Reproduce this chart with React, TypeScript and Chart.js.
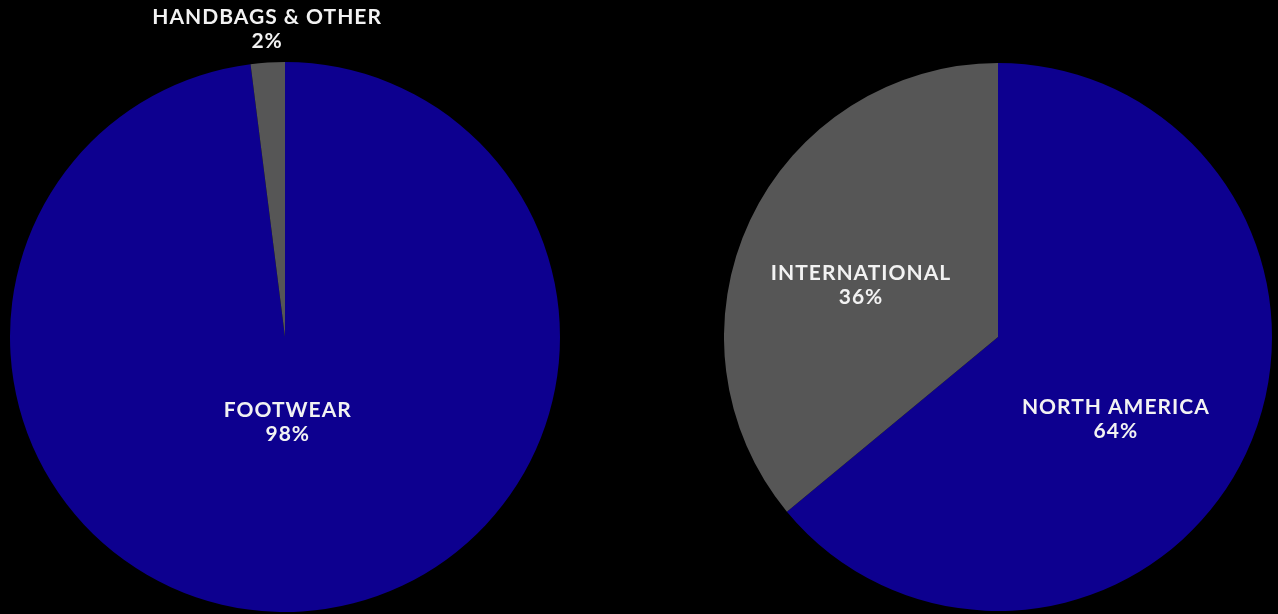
import React, { useEffect, useRef } from "react";
import { Chart, registerables } from "chart.js";

Chart.register(...registerables);

const productLabels = ["FOOTWEAR", "HANDBAGS & OTHER"];
const productValues = [98, 2];
const regionLabels = ["NORTH AMERICA", "INTERNATIONAL"];
const regionValues = [64, 36];

const BLUE = "#0d008f";
const GRAY = "#565656";

const labelPlugin = {
  id: "sliceLabels",
  afterDatasetsDraw(chart: any, _args: any, opts: any) {
    const ctx = chart.ctx;
    const meta = chart.getDatasetMeta(0);
    const labels = chart.data.labels as string[];
    const values = chart.data.datasets[0].data as number[];
    const offsets = opts.offsets as number[][];
    ctx.save();
    ctx.fillStyle = "#f2f2f2";
    ctx.textAlign = "center";
    ctx.textBaseline = "middle";
    ctx.font = "bold 21px Lato";
    (ctx as any).letterSpacing = "1px";
    meta.data.forEach((arc: any, i: number) => {
      const r = arc.outerRadius;
      const x = arc.x + offsets[i][0] * r;
      const y = arc.y + offsets[i][1] * r;
      ctx.fillText(labels[i], x, y - 12);
      ctx.fillText(values[i] + "%", x, y + 12);
    });
    ctx.restore();
  },
};

function Pie({ labels, values, colors, offsets, style, width, height, padding }: any) {
  const ref = useRef<HTMLCanvasElement>(null);
  useEffect(() => {
    const chart = new Chart(ref.current!, {
      type: "pie",
      data: {
        labels,
        datasets: [{ data: values, backgroundColor: colors, borderWidth: 0 }],
      },
      options: {
        responsive: false,
        animation: false,
        layout: { padding },
        plugins: {
          legend: { display: false },
          tooltip: { enabled: false },
          sliceLabels: { offsets },
        } as any,
      },
      plugins: [labelPlugin],
    });
    return () => chart.destroy();
  }, []);
  return (
    <canvas
      ref={ref}
      width={width}
      height={height}
      style={{ position: "absolute", width, height, ...style }}
    />
  );
}

export default function App() {
  useEffect(() => {
    document.body.style.margin = "0";
    document.body.style.background = "#000";
  }, []);
  return (
    <div style={{ position: "fixed", left: 0, top: 0, width: 1278, height: 614, background: "#000" }}>
      <Pie
        labels={productLabels}
        values={productValues}
        colors={[BLUE, GRAY]}
        offsets={[[0.01, 0.31], [-0.065, -1.12]]}
        width={550}
        height={614}
        padding={{ top: 62, bottom: 2, left: 0, right: 0 }}
        style={{ left: 10, top: 0 }}
      />
      <Pie
        labels={regionLabels}
        values={regionValues}
        colors={[BLUE, GRAY]}
        offsets={[[0.43, 0.3], [-0.5, -0.19]]}
        width={548}
        height={614}
        padding={{ top: 63, bottom: 3, left: 0, right: 0 }}
        style={{ left: 724, top: 0 }}
      />
    </div>
  );
}
